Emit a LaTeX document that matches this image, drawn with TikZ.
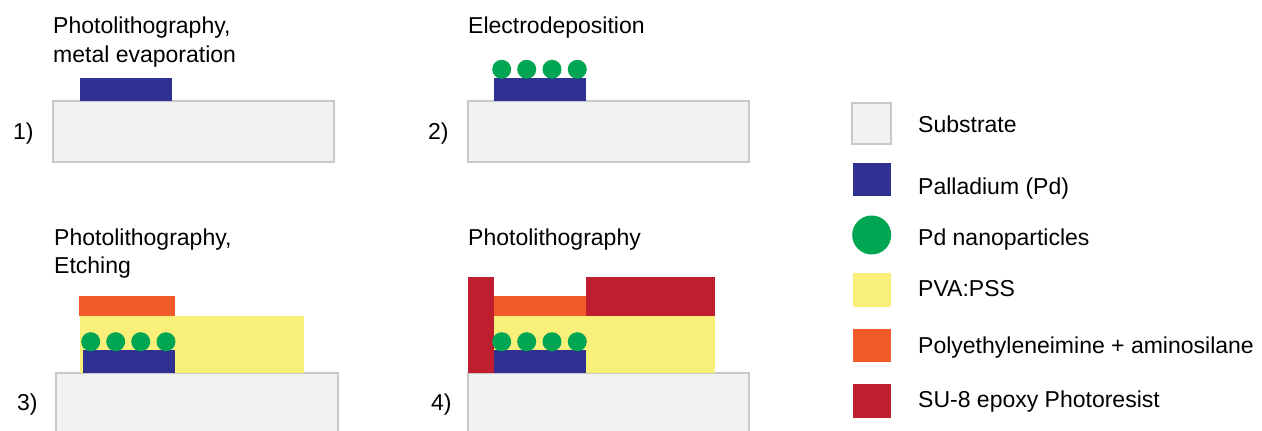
\documentclass[tikz,border=0pt]{standalone}
\usepackage{fontspec}
\setmainfont{Liberation Sans}
\definecolor{subfill}{HTML}{F2F2F2}
\definecolor{subline}{HTML}{C8C8C8}
\definecolor{pdblue}{HTML}{2E3192}
\definecolor{npgreen}{HTML}{00A651}
\definecolor{pvayellow}{HTML}{F9F07A}
\definecolor{peiorange}{HTML}{F15A29}
\definecolor{sured}{HTML}{BE1E2D}
\begin{document}
\begin{tikzpicture}[x=1pt,y=-1pt,
  lbl/.style={font=\fontsize{23}{28}\selectfont, inner sep=0pt, anchor=base west},
  substrate/.style={fill=subfill, draw=subline, line width=1.5pt},
  pd/.style={fill=pdblue},
  np/.style={fill=npgreen},
  pva/.style={fill=pvayellow},
  pei/.style={fill=peiorange},
  su8/.style={fill=sured}]
\clip (0,0) rectangle (1262,431);

% ---- step 1: palladium pad on the substrate
\node[lbl] (t1a) at (53,33) {Photolithography,};
\node[lbl] (t1b) at (53,62) {metal evaporation};
\node[lbl] (n1) at (13,139) {1)};
\path[substrate] (53,101) rectangle (334,162);
\path[pd] (80,78) rectangle (172,100.5);

% ---- step 2: nanoparticles grown on the pad
\node[lbl] (t2) at (468,33) {Electrodeposition};
\node[lbl] (n2) at (428,139) {2)};
\path[substrate] (468,101) rectangle (749,162);
\path[pd] (494,78) rectangle (586,100.5);
\foreach \cx in {501.7,526.7,552,577.3}
  \path[np] (\cx,69.3) circle (9.5pt);

% ---- step 3: PVA:PSS and PEI layers
\node[lbl] (t3a) at (54,245) {Photolithography,};
\node[lbl] (t3b) at (54,273) {Etching};
\node[lbl] (n3) at (17,410) {3)};
\path[substrate] (56,373) rectangle (338,445);
\path[pva] (80,315.7) rectangle (304,372.5);
\path[pei] (79,295.7) rectangle (175,315.7);
\path[pd] (83,350) rectangle (175,372.5);
\foreach \cx in {90.7,115.7,140.7,166}
  \path[np] (\cx,341.7) circle (9.5pt);

% ---- step 4: SU-8 photoresist patterning
\node[lbl] (t4) at (468,245) {Photolithography};
\node[lbl] (n4) at (431,410) {4)};
\path[substrate] (468,373) rectangle (749,445);
\path[pva] (494,315.7) rectangle (715,372.5);
\path[pei] (494,295.7) rectangle (586,315.7);
\path[su8] (468,276.7) rectangle (494,372.5);
\path[su8] (586,276.7) rectangle (715,315.7);
\path[pd] (494,350) rectangle (586,372.5);
\foreach \cx in {501.7,526.7,552,577.3}
  \path[np] (\cx,341.7) circle (9.5pt);

% ---- legend
\path[substrate] (852,103) rectangle (891,144);
\node[lbl] (l1) at (918,132) {Substrate};
\path[pd] (853,163) rectangle (891,196);
\node[lbl] (l2) at (918,194) {Palladium (Pd)};
\path[np] (871.7,235) circle (19.5pt);
\node[lbl] (l3) at (918,245) {Pd nanoparticles};
\path[pva] (853,273) rectangle (891,307);
\node[lbl] (l4) at (918,296) {PVA:PSS};
\path[pei] (853,329) rectangle (891,362);
\node[lbl] (l5) at (918,353) {Polyethyleneimine + aminosilane};
\path[su8] (853,384) rectangle (891,418);
\node[lbl] (l6) at (918,407) {SU-8 epoxy Photoresist};
\end{tikzpicture}
\end{document}
